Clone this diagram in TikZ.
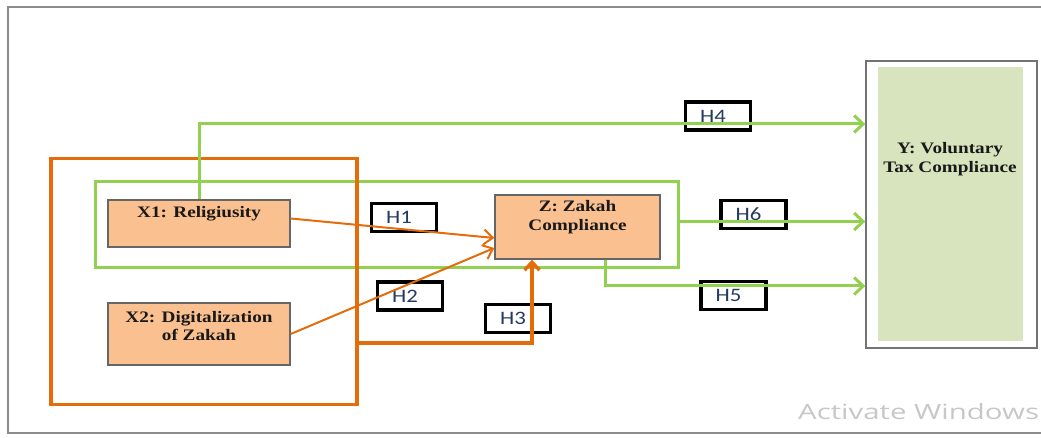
\documentclass[tikz,border=0pt]{standalone}
\usepackage{graphicx}
\usepackage{fontspec}
\setmainfont{Liberation Serif}
\newfontfamily\boxfont{Liberation Serif}
\newfontfamily\hfont{Carlito}
\newfontfamily\wmfont{Open Sans}
\usetikzlibrary{arrows.meta}
\definecolor{zorange}{HTML}{E46C0A}
\definecolor{zgreen}{HTML}{92D050}
\definecolor{zpeach}{HTML}{FAC090}
\definecolor{zsage}{HTML}{D7E4BD}
\definecolor{hblue}{HTML}{243A5E}
\definecolor{framegray}{HTML}{8C8C8C}
\newcommand{\wide}[1]{\scalebox{1.2}[1]{#1}}
\begin{document}
\begin{tikzpicture}[x=1pt,y=-1pt,
  varbox/.style={draw=black!60, line width=1.4pt, fill=zpeach, inner sep=0pt},
  boxtext/.style={font=\boxfont\bfseries\fontsize{16}{19}\selectfont, text=black!90, inner sep=0pt, anchor=base},
  hbox/.style={draw=black, line width=3.4pt, minimum width=65pt, minimum height=28pt, inner sep=0pt},
  htext/.style={font=\hfont\fontsize{19}{19}\selectfont, text=hblue, inner sep=0pt},
  garrow/.style={draw=zgreen, line width=3pt, -{Straight Barb[length=9pt,width=17pt]}},
  oarrow/.style={draw=zorange, line width=2pt, -{Straight Barb[length=9pt,width=15pt]}},
  oarrowthick/.style={draw=zorange, line width=3.4pt, -{Straight Barb[length=8pt,width=15pt]}}
]
\useasboundingbox (0,0) rectangle (1041,438);
% outer frame
\draw[framegray, line width=1.8pt] (1045,7) -- (8,7) -- (8,433) -- (1045,433);
% watermark
\node[anchor=base west, text=black!22, font=\wmfont\fontsize{21}{21}\selectfont, inner sep=0pt] (wm) at (798,419) {\scalebox{1.4}[1]{Activate Windows}};

% group rectangles
\node[draw=zgreen, line width=3pt, minimum width=583pt, minimum height=86pt, inner sep=0pt] (grect) at (386.5,224.75) {};
\node[draw=zorange, line width=3.4pt, minimum width=306pt, minimum height=246pt, inner sep=0pt] (orect) at (204,281.5) {};

% variable boxes
\node[varbox, minimum width=182pt, minimum height=47pt] (x1) at (199,223.5) {};
\node[boxtext] (x1t) at (199,218) {\wide{X1: Religiusity}};
\node[varbox, minimum width=182pt, minimum height=62pt] (x2) at (199,334) {};
\node[boxtext] (x2t1) at (199,322) {\wide{X2: Digitalization}};
\node[boxtext] (x2t2) at (199,340) {\wide{of Zakah}};
\node[varbox, minimum width=165pt, minimum height=64pt] (z) at (577.5,227) {};
\node[boxtext] (zt1) at (577.5,212) {\wide{Z: Zakah}};
\node[boxtext] (zt2) at (577.5,231) {\wide{Compliance}};

% Y box
\node[draw=black!55, line width=1.4pt, fill=white, minimum width=171pt, minimum height=287pt, inner sep=0pt] (yout) at (951.5,204.5) {};
\node[fill=zsage, minimum width=145pt, minimum height=274pt, inner sep=0pt] (yin) at (950.5,204) {};
\node[boxtext] (yt1) at (950,154) {\wide{Y: Voluntary}};
\node[boxtext] (yt2) at (950,173) {\wide{Tax Compliance}};

% hypothesis boxes
\node[hbox] (h1) at (404,217.5) {};
\node[hbox] (h2) at (410,296) {};
\node[hbox] (h3) at (518,318.5) {};
\node[hbox] (h4) at (718,116) {};
\node[hbox] (h5) at (733.5,295.5) {};
\node[hbox] (h6) at (753.5,214.5) {};
\node[htext] (h1t) at ([xshift=-5pt]h1.center) {\wide{H1}};
\node[htext] (h2t) at ([xshift=-5pt]h2.center) {\wide{H2}};
\node[htext] (h3t) at ([xshift=-5pt]h3.center) {\wide{H3}};
\node[htext] (h4t) at ([xshift=-5pt]h4.center) {\wide{H4}};
\node[htext] (h5t) at ([xshift=-5pt]h5.center) {\wide{H5}};
\node[htext] (h6t) at ([xshift=-5pt]h6.center) {\wide{H6}};

% green connectors
\draw[garrow] (x1.north) |- (yout.west |- 0,124);
\draw[garrow] (grect.east |- 0,221.5) -- (yout.west |- 0,221.5);
\draw[garrow] ([xshift=27.5pt]z.south) |- (yout.west |- 0,286);

% orange connectors
\draw[oarrow] ([yshift=5pt]x1.east) -- ([yshift=-11pt]z.west);
\draw[oarrow] (x2.east) -- ([yshift=-21pt]z.west);
\draw[oarrowthick] (orect.east |- 0,343) -| ([xshift=-45.5pt]z.south);
\end{tikzpicture}
\end{document}
